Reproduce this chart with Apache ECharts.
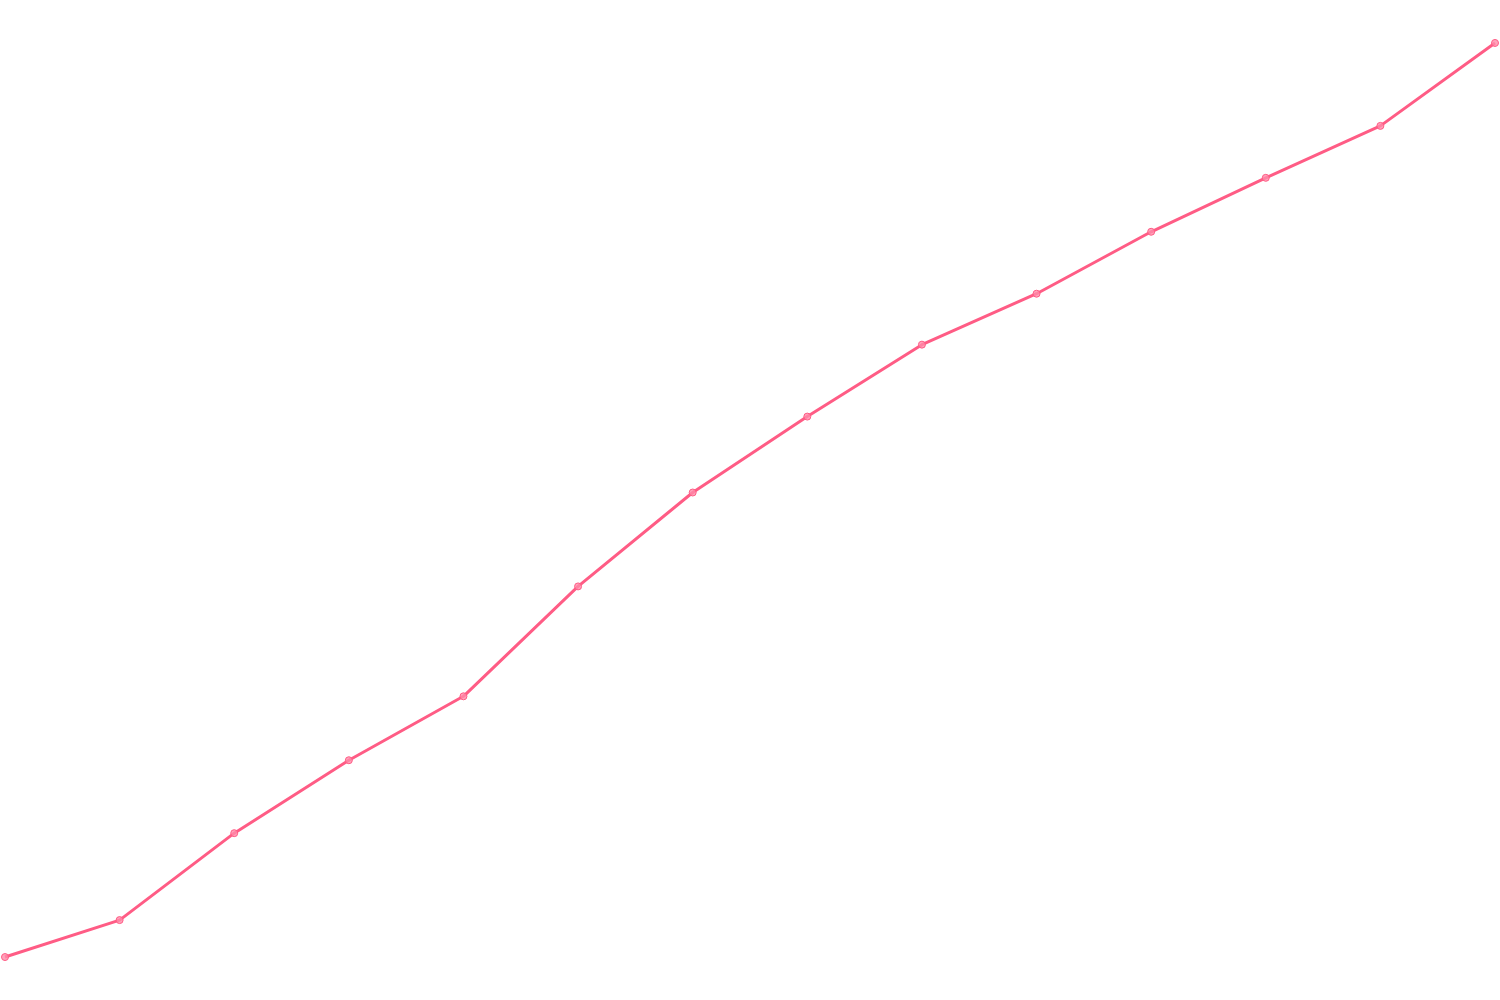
<!DOCTYPE html>
<html><head><meta charset="utf-8">
<script src="https://cdn.jsdelivr.net/npm/echarts@6/dist/echarts.min.js"></script>
<style>html,body{margin:0;padding:0;background:#fff}#c{width:1500px;height:1000px}</style>
</head><body><div id="c"></div>
<script>
const categories = ['1','2','3','4','5','6','7','8','9','10','11','12','13','14'];
const values = [43, 80, 167, 240, 304, 414, 508, 584, 656, 707, 769, 823, 875, 958];
const chart = echarts.init(document.getElementById('c'));
chart.setOption({
  animation: false,
  grid: {left: 5, right: 5, top: 1, bottom: -1},
  xAxis: {type: 'category', data: categories, boundaryGap: false, show: false},
  yAxis: {type: 'value', min: 0, max: 1000, show: false},
  series: [{
    type: 'line', data: values,
    symbol: 'circle', symbolSize: 7,
    lineStyle: {color: '#ff5c85', width: 3},
    itemStyle: {color: 'rgba(255,140,170,0.8)', borderColor: '#ff5c85', borderWidth: 1}
  }]
});
</script></body></html>
